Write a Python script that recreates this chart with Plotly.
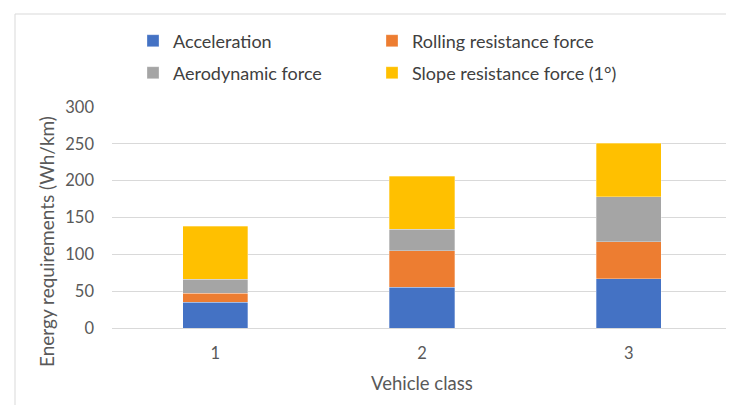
import plotly.graph_objects as go

categories = ["1", "2", "3"]
acceleration = [35, 55, 67]
rolling = [12, 50, 50]
aerodynamic = [19, 29, 61]
slope = [72, 72, 73]
y_ticks = [0, 50, 100, 150, 200, 250, 300]

series = [
    ("Acceleration", acceleration, "#4472C4", "legend"),
    ("Rolling resistance force", rolling, "#ED7D31", "legend2"),
    ("Aerodynamic force", aerodynamic, "#A5A5A5", "legend3"),
    ("Slope resistance force (1°)", slope, "#FFC000", "legend4"),
]

# figure pixel coordinates (page body has an 8px offset)
W, H = 726, 397
ml, mr, mt, mb = 104, 2, 99, 77
pw, ph = W - ml - mr, H - mt - mb

def px_x(x):
    return (x - ml) / pw

def px_y(y):
    return (H - mb - y) / ph

fig = go.Figure()
for name, vals, color, leg in series:
    fig.add_trace(go.Bar(
        x=categories, y=vals, name=name, legend=leg, showlegend=True,
        marker=dict(color=color, line=dict(color="rgba(255,255,255,0.5)", width=0.6)),
    ))

font_family = "Lato, 'Open Sans', sans-serif"
txt = "#595959"
tick_fs = 16.5
leg_fs = 18
title_fs = 19

legend_common = dict(
    orientation="h", xanchor="left", yanchor="middle",
    xref="container", yref="container",
    font=dict(family=font_family, size=leg_fs, color="#404040"),
    bgcolor="rgba(0,0,0,0)", itemclick=False,
)

col1, col2 = 125, 364
row1, row2 = 33, 65

fig.update_layout(
    width=W, height=H,
    showlegend=True,
    margin=dict(l=ml, r=mr, t=mt, b=mb, autoexpand=False),
    barmode="stack", bargap=0.685,
    plot_bgcolor="white", paper_bgcolor="white",
    font=dict(family=font_family, size=tick_fs, color=txt),
    legend=dict(x=col1 / W, y=1 - row1 / H, **legend_common),
    legend2=dict(x=col2 / W, y=1 - row1 / H, **legend_common),
    legend3=dict(x=col1 / W, y=1 - row2 / H, **legend_common),
    legend4=dict(x=col2 / W, y=1 - row2 / H, **legend_common),
    xaxis=dict(
        type="category", categoryorder="array", categoryarray=categories,
        showgrid=False, showline=False, ticks="", automargin=False,
        tickfont=dict(size=tick_fs, color=txt), ticklabelstandoff=13,
    ),
    yaxis=dict(
        range=[0, 300], tickvals=y_ticks, ticktext=[str(v) for v in y_ticks],
        showgrid=True, gridcolor="#D9D9D9", gridwidth=1,
        zeroline=True, zerolinecolor="#D9D9D9", zerolinewidth=1,
        showline=False, ticks="", automargin=False,
        tickfont=dict(size=tick_fs, color=txt), ticklabelstandoff=17,
    ),
    annotations=[
        dict(text="Vehicle class", xref="paper", yref="paper",
             x=0.5, y=px_y(375), xanchor="center", yanchor="middle",
             showarrow=False, font=dict(size=18.5, color=txt)),
        dict(text="Energy requirements (Wh/km)", xref="paper", yref="paper",
             x=px_x(38), y=px_y(234), xanchor="center", yanchor="middle",
             textangle=-90, showarrow=False, font=dict(size=title_fs, color=txt)),
    ],
    shapes=[dict(
        type="rect", xref="paper", yref="paper",
        x0=px_x(7), x1=px_x(745), y0=px_y(420), y1=px_y(6),
        line=dict(color="#D9D9D9", width=1), fillcolor="rgba(0,0,0,0)", layer="below",
    )],
)

fig.write_html("out.html")
